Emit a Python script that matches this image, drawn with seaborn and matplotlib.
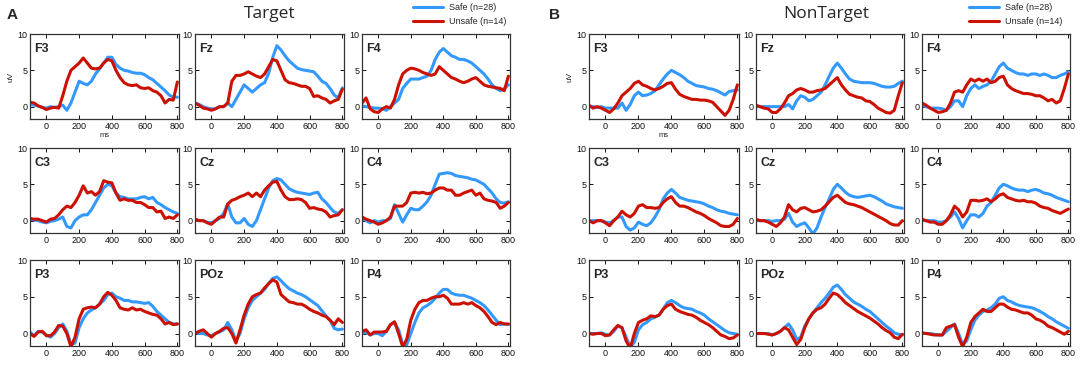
import numpy as np
import pandas as pd
import matplotlib
matplotlib.use("Agg")
import matplotlib.pyplot as plt
import seaborn as sns

# ---------------- data ----------------
TIME_MS = [-100, -75, -50, -25, 0, 25, 50, 75, 100, 125, 150, 175, 200, 225, 250, 275,
           300, 325, 350, 375, 400, 425, 450, 475, 500, 525, 550, 575, 600, 625, 650,
           675, 700, 725, 750, 775, 800]
CHANNELS = ["F3", "Fz", "F4", "C3", "Cz", "C4", "P3", "POz", "P4"]
CONDITIONS = ["Target", "NonTarget"]
PANEL_LETTERS = ["A", "B"]
GROUPS = ["Safe (n=28)", "Unsafe (n=14)"]

# Target condition
TGT_F3_SAFE = [0.3, 0.2, 0.1, -0.1, -0.2, 0.0, -0.1, 0.0, 0.2, -0.5, 0.5, 2.0, 3.5, 3.2, 3.0, 3.5, 4.5, 5.2, 6.0, 6.8, 6.8, 5.8, 5.3, 5.0, 4.9, 4.7, 4.6, 4.6, 4.4, 4.0, 3.7, 3.2, 2.7, 2.2, 1.6, 1.3, 1.3]
TGT_F3_UNSAFE = [0.6, 0.5, 0.1, -0.1, -0.4, -0.2, -0.1, -0.2, 1.5, 3.5, 5.0, 5.5, 6.0, 6.7, 6.0, 5.3, 5.2, 5.3, 6.0, 6.5, 6.3, 5.0, 4.0, 3.3, 3.0, 2.9, 3.0, 2.6, 2.5, 2.6, 2.2, 2.0, 1.5, 0.5, 1.0, 0.9, 3.4]
TGT_FZ_SAFE = [0.5, 0.3, 0.0, -0.2, -0.3, -0.3, 0.0, 0.0, 0.5, 0.0, 1.0, 2.0, 3.0, 2.5, 2.0, 2.5, 3.0, 3.3, 4.6, 6.8, 8.4, 7.8, 7.0, 6.3, 5.8, 5.3, 5.1, 5.0, 4.9, 4.8, 4.2, 3.5, 3.2, 2.5, 1.6, 1.2, 2.6]
TGT_FZ_UNSAFE = [0.5, 0.2, -0.2, -0.3, -0.5, -0.3, 0.0, 0.0, 0.5, 3.5, 4.3, 4.3, 4.5, 4.8, 4.5, 4.2, 4.0, 4.5, 5.5, 6.5, 6.3, 5.0, 3.7, 3.3, 3.2, 3.0, 2.8, 2.8, 2.5, 1.4, 1.5, 1.2, 1.0, 0.5, 0.8, 1.0, 2.4]
TGT_F4_SAFE = [0.1, 0.0, -0.1, -0.2, -0.2, -0.3, -0.5, 0.0, 0.5, 1.0, 2.5, 3.2, 3.8, 3.8, 3.8, 4.0, 4.2, 5.0, 6.5, 7.5, 8.0, 7.5, 7.0, 6.8, 6.5, 6.5, 6.3, 6.0, 5.5, 5.0, 4.5, 3.8, 3.0, 2.5, 2.2, 2.5, 3.0]
TGT_F4_UNSAFE = [0.5, 1.2, -0.3, -0.7, -0.8, -0.3, 0.0, -0.2, 1.0, 3.0, 4.5, 5.0, 5.3, 5.2, 5.0, 4.7, 4.5, 4.3, 4.5, 5.5, 5.0, 4.5, 4.0, 3.8, 3.5, 3.3, 3.5, 3.8, 4.0, 3.5, 3.0, 2.8, 2.7, 2.6, 2.5, 2.2, 4.2]
TGT_C3_SAFE = [0.2, 0.1, 0.0, -0.2, -0.3, -0.1, 0.0, 0.2, 0.5, -0.8, -1.0, 0.0, 0.5, 0.8, 0.8, 1.5, 2.5, 3.5, 4.5, 5.0, 4.8, 3.8, 3.3, 3.2, 3.0, 3.0, 3.0, 3.2, 3.3, 3.0, 3.2, 2.5, 2.2, 1.8, 1.5, 1.2, 1.0]
TGT_C3_UNSAFE = [0.3, 0.2, 0.2, 0.0, -0.2, 0.2, 0.3, 0.8, 1.5, 2.0, 1.8, 2.5, 3.5, 4.8, 3.8, 4.0, 3.5, 4.0, 5.5, 5.3, 5.2, 3.8, 2.8, 3.0, 2.8, 2.8, 2.5, 2.5, 2.2, 1.8, 1.8, 1.2, 1.3, 0.3, 0.5, 0.3, 0.8]
TGT_CZ_SAFE = [0.2, 0.0, 0.0, -0.2, -0.3, 0.0, 0.3, 1.0, 2.3, 0.5, -0.3, -0.3, 0.3, -0.5, -0.8, 0.0, 1.5, 3.0, 4.5, 5.5, 5.8, 5.6, 5.0, 4.4, 4.1, 3.9, 3.8, 3.7, 3.6, 3.8, 3.9, 3.0, 2.5, 1.8, 1.2, 1.0, 1.5]
TGT_CZ_UNSAFE = [0.2, 0.0, 0.0, -0.3, -0.5, 0.0, 0.5, 0.5, 2.3, 2.8, 3.0, 3.3, 3.5, 3.8, 3.3, 3.8, 3.3, 4.2, 4.8, 5.3, 5.4, 4.2, 3.3, 2.9, 2.9, 3.0, 2.9, 2.5, 1.7, 1.8, 1.6, 1.5, 1.2, 0.5, 0.7, 0.8, 1.5]
TGT_C4_SAFE = [0.3, 0.0, -0.3, 0.0, -0.2, 0.0, 0.0, 0.3, 2.2, 1.0, -0.2, 0.8, 1.7, 1.5, 1.5, 2.0, 2.6, 3.5, 5.0, 6.4, 6.5, 6.6, 6.5, 6.2, 6.1, 6.0, 5.9, 5.7, 5.6, 5.3, 5.0, 4.4, 3.8, 3.0, 2.5, 2.4, 2.6]
TGT_C4_UNSAFE = [0.5, 0.2, 0.0, -0.2, -0.5, -0.3, 0.0, 0.5, 2.0, 2.0, 2.0, 2.5, 3.8, 3.9, 3.8, 3.9, 3.7, 3.8, 4.2, 4.5, 4.5, 4.2, 4.2, 3.5, 3.5, 3.8, 4.0, 4.2, 3.5, 3.8, 3.0, 2.8, 2.7, 2.5, 1.7, 2.0, 2.5]
TGT_P3_SAFE = [0.2, -0.3, 0.3, 0.2, -0.2, -0.5, 0.0, 0.8, 1.3, 0.3, -1.5, -1.3, 0.8, 2.0, 2.8, 3.2, 3.5, 4.0, 4.5, 5.3, 5.5, 5.0, 4.8, 4.5, 4.5, 4.3, 4.3, 4.2, 4.1, 4.2, 3.7, 3.0, 2.5, 2.0, 1.5, 1.3, 1.3]
TGT_P3_UNSAFE = [0.0, -0.4, 0.2, 0.3, -0.3, -0.3, 0.2, 1.1, 1.0, 0.0, -1.8, -0.5, 2.0, 3.3, 3.5, 3.6, 3.5, 4.0, 5.0, 5.6, 5.2, 4.5, 3.5, 3.3, 3.2, 3.5, 3.2, 3.3, 3.0, 2.8, 2.6, 2.5, 2.0, 1.3, 1.5, 1.2, 1.3]
TGT_POZ_SAFE = [0.2, 0.0, 0.0, -0.2, -0.3, 0.0, 0.2, 0.5, 1.5, 0.5, -1.0, 0.0, 2.0, 3.5, 4.5, 5.0, 5.5, 6.0, 6.8, 7.5, 7.7, 7.2, 6.6, 6.1, 5.8, 5.5, 5.3, 5.0, 4.6, 4.2, 3.8, 3.1, 2.4, 1.8, 0.7, 0.5, 0.6]
TGT_POZ_UNSAFE = [0.0, 0.3, 0.5, 0.0, -0.5, 0.0, 0.3, 0.7, 0.8, 0.0, -1.3, 0.5, 2.5, 4.0, 5.0, 5.3, 5.5, 6.2, 6.8, 7.3, 7.0, 5.3, 4.8, 4.3, 4.2, 4.0, 4.0, 3.7, 3.3, 3.0, 2.8, 2.5, 2.3, 1.8, 1.2, 2.0, 1.5]
TGT_P4_SAFE = [0.0, 0.2, -0.2, 0.0, 0.0, -0.3, 0.3, 1.2, 1.5, 0.5, -1.5, -1.5, 0.0, 1.5, 2.8, 3.5, 3.8, 4.2, 4.8, 5.5, 6.0, 6.0, 5.5, 5.3, 5.2, 5.2, 5.0, 4.8, 4.5, 4.2, 3.8, 3.2, 2.5, 1.8, 1.2, 1.3, 1.2]
TGT_P4_UNSAFE = [0.3, 0.5, -0.2, 0.2, 0.2, 0.2, 0.3, 1.2, 1.6, 0.0, -1.8, -0.8, 1.8, 3.3, 4.2, 4.5, 4.5, 4.8, 5.0, 5.0, 5.2, 4.8, 4.0, 4.0, 4.0, 4.2, 4.0, 4.2, 3.8, 3.5, 3.0, 2.3, 1.5, 1.2, 1.5, 1.3, 1.3]

# NonTarget condition
NT_F3_SAFE = [0.0, 0.0, -0.1, 0.0, -0.2, -0.2, -0.2, -0.2, 0.5, -0.5, 0.3, 1.5, 2.0, 1.5, 1.6, 1.8, 2.2, 3.0, 3.8, 4.5, 5.0, 4.7, 4.4, 4.0, 3.5, 3.2, 2.9, 2.8, 2.7, 2.5, 2.4, 2.2, 1.9, 1.6, 2.1, 2.2, 2.3]
NT_F3_UNSAFE = [0.2, -0.2, 0.0, -0.2, -0.5, -0.8, -0.3, 0.5, 1.5, 2.0, 2.5, 3.2, 3.5, 3.0, 2.8, 2.5, 2.3, 2.5, 2.8, 3.2, 3.3, 2.4, 1.7, 1.4, 1.2, 1.0, 1.0, 0.9, 0.9, 0.8, 0.6, 0.0, -0.6, -1.2, -0.5, 1.0, 3.0]
NT_FZ_SAFE = [0.0, 0.0, 0.0, 0.0, 0.0, 0.0, 0.0, 0.0, 0.3, -0.3, 0.8, 1.5, 1.3, 0.8, 1.0, 1.5, 2.0, 3.0, 4.2, 5.3, 6.0, 5.3, 4.5, 3.8, 3.5, 3.4, 3.3, 3.3, 3.3, 3.2, 3.0, 2.8, 2.7, 2.7, 2.8, 3.2, 3.5]
NT_FZ_UNSAFE = [0.2, 0.0, -0.2, -0.3, -0.8, -0.8, -0.3, 0.5, 1.5, 1.8, 2.3, 2.5, 2.3, 2.0, 2.0, 2.2, 2.3, 2.5, 3.0, 3.5, 4.0, 3.0, 2.3, 1.7, 1.5, 1.3, 1.2, 0.8, 0.7, 0.3, -0.2, -0.5, -0.8, -0.9, -0.5, 1.5, 3.3]
NT_F4_SAFE = [0.2, 0.0, -0.2, -0.2, -0.2, -0.3, -0.5, 0.0, 0.8, 0.8, 0.0, 1.5, 2.5, 3.0, 2.5, 2.8, 3.0, 3.5, 4.5, 5.5, 6.0, 5.3, 5.0, 4.7, 4.5, 4.5, 4.3, 4.5, 4.5, 4.3, 4.5, 4.3, 4.0, 4.0, 4.3, 4.5, 4.8]
NT_F4_UNSAFE = [0.5, 0.2, -0.2, -0.5, -0.8, -0.7, -0.5, 0.5, 2.0, 2.2, 2.0, 3.0, 3.8, 3.5, 3.8, 3.5, 3.8, 3.3, 3.5, 4.0, 4.2, 3.0, 2.5, 2.2, 2.0, 1.8, 1.8, 1.7, 1.5, 1.5, 1.2, 0.8, 1.0, 0.5, 0.8, 2.5, 4.5]
NT_C3_SAFE = [0.0, 0.0, 0.0, 0.0, -0.2, -0.3, 0.0, 0.5, 0.5, -0.8, -1.3, -1.0, -0.2, -0.5, -0.7, -0.3, 0.5, 1.5, 3.0, 3.8, 4.3, 3.8, 3.2, 3.0, 2.8, 2.7, 2.6, 2.5, 2.3, 2.0, 1.8, 1.5, 1.3, 1.2, 1.0, 0.9, 0.8]
NT_C3_UNSAFE = [0.0, -0.3, 0.0, 0.0, -0.3, -0.7, 0.0, 0.5, 1.3, 0.8, 0.5, 1.0, 2.0, 2.2, 1.8, 1.8, 1.7, 1.8, 2.5, 3.0, 3.3, 2.5, 2.0, 2.0, 1.8, 1.5, 1.2, 1.0, 0.7, 0.3, 0.0, -0.3, -0.7, -0.8, -0.8, -0.5, 0.3]
NT_CZ_SAFE = [0.0, 0.0, 0.0, 0.0, -0.1, 0.0, 0.0, 0.2, 1.0, -0.2, -0.8, -0.5, -0.3, -1.0, -1.8, -1.0, 0.5, 1.8, 3.0, 4.3, 5.0, 4.5, 3.9, 3.5, 3.3, 3.2, 3.3, 3.4, 3.5, 3.3, 3.0, 2.7, 2.3, 2.1, 1.9, 1.8, 1.7]
NT_CZ_UNSAFE = [0.2, 0.0, 0.0, -0.2, -0.5, -0.8, -0.3, 0.5, 2.2, 1.5, 1.2, 1.7, 1.8, 1.5, 1.2, 1.3, 1.5, 2.0, 2.6, 3.2, 3.5, 3.0, 2.5, 2.3, 2.2, 2.0, 1.8, 1.5, 1.2, 0.9, 0.6, 0.3, 0.0, -0.4, -0.6, -0.6, 0.0]
NT_C4_SAFE = [0.0, 0.0, 0.0, 0.0, -0.2, -0.2, 0.0, 0.5, 1.2, 0.3, -1.0, 0.0, 0.8, 0.8, 0.5, 1.0, 2.0, 2.5, 3.5, 4.5, 5.0, 4.8, 4.5, 4.3, 4.2, 4.2, 4.0, 4.2, 4.3, 4.1, 3.8, 3.7, 3.5, 3.2, 3.0, 2.8, 2.6]
NT_C4_UNSAFE = [0.2, 0.0, -0.2, -0.2, -0.5, -0.5, 0.0, 0.8, 2.0, 1.5, 0.5, 1.2, 2.8, 2.8, 2.7, 2.8, 3.0, 2.6, 3.0, 3.5, 3.7, 3.2, 3.0, 2.8, 2.7, 2.8, 2.6, 2.6, 2.4, 2.0, 1.8, 1.7, 1.4, 1.2, 1.0, 1.3, 1.6]
NT_P3_SAFE = [0.0, 0.0, 0.0, 0.1, -0.1, -0.2, 0.3, 1.0, 0.8, -0.5, -1.8, -1.2, 0.5, 1.2, 1.5, 2.0, 2.2, 2.5, 3.3, 4.2, 4.5, 4.2, 3.8, 3.5, 3.4, 3.3, 3.0, 2.8, 2.5, 2.0, 1.6, 1.2, 0.8, 0.4, 0.1, 0.0, -0.1]
NT_P3_UNSAFE = [0.0, -0.1, 0.0, 0.0, -0.3, -0.2, 0.5, 1.1, 0.8, -1.0, -2.0, 0.0, 1.5, 1.8, 2.0, 2.4, 2.3, 2.5, 3.3, 3.8, 4.0, 3.3, 3.0, 2.8, 2.6, 2.5, 2.2, 1.8, 1.5, 1.2, 0.8, 0.3, -0.2, -0.4, -0.7, -0.6, -0.2]
NT_POZ_SAFE = [0.0, 0.0, 0.0, 0.0, -0.2, 0.0, 0.3, 0.8, 1.3, 0.5, -0.8, -0.5, 1.0, 2.0, 2.8, 3.5, 4.2, 4.8, 5.5, 6.3, 6.6, 6.0, 5.3, 4.8, 4.3, 4.0, 3.7, 3.3, 3.0, 2.5, 2.0, 1.5, 1.0, 0.6, 0.1, -0.1, -0.2]
NT_POZ_UNSAFE = [0.0, 0.0, 0.0, -0.1, -0.2, 0.0, 0.3, 0.8, 0.5, -0.5, -1.5, -0.8, 0.8, 2.0, 2.8, 3.3, 3.5, 4.0, 4.8, 5.5, 5.3, 4.8, 4.2, 3.8, 3.4, 3.0, 2.7, 2.4, 2.1, 1.7, 1.3, 0.8, 0.4, 0.1, -0.5, -0.7, -0.1]
NT_P4_SAFE = [0.0, 0.0, 0.0, -0.1, -0.2, -0.2, 0.3, 0.8, 1.3, 0.0, -1.5, -1.0, 0.5, 1.8, 2.5, 3.0, 3.2, 3.5, 4.0, 4.8, 5.0, 4.5, 4.3, 4.0, 3.8, 3.7, 3.6, 3.5, 3.3, 3.0, 2.7, 2.3, 2.0, 1.6, 1.3, 1.0, 0.7]
NT_P4_UNSAFE = [0.1, 0.0, -0.1, -0.2, -0.2, -0.2, 0.8, 1.0, 1.2, -0.5, -1.8, -0.5, 1.5, 2.3, 2.8, 3.3, 3.0, 3.0, 3.5, 4.0, 4.0, 3.6, 3.3, 3.2, 3.0, 2.8, 2.8, 2.5, 2.0, 1.8, 1.5, 1.0, 0.8, 0.5, 0.2, -0.1, 0.3]

SERIES = {
    ("Target", "F3"): (TGT_F3_SAFE, TGT_F3_UNSAFE),
    ("Target", "Fz"): (TGT_FZ_SAFE, TGT_FZ_UNSAFE),
    ("Target", "F4"): (TGT_F4_SAFE, TGT_F4_UNSAFE),
    ("Target", "C3"): (TGT_C3_SAFE, TGT_C3_UNSAFE),
    ("Target", "Cz"): (TGT_CZ_SAFE, TGT_CZ_UNSAFE),
    ("Target", "C4"): (TGT_C4_SAFE, TGT_C4_UNSAFE),
    ("Target", "P3"): (TGT_P3_SAFE, TGT_P3_UNSAFE),
    ("Target", "POz"): (TGT_POZ_SAFE, TGT_POZ_UNSAFE),
    ("Target", "P4"): (TGT_P4_SAFE, TGT_P4_UNSAFE),
    ("NonTarget", "F3"): (NT_F3_SAFE, NT_F3_UNSAFE),
    ("NonTarget", "Fz"): (NT_FZ_SAFE, NT_FZ_UNSAFE),
    ("NonTarget", "F4"): (NT_F4_SAFE, NT_F4_UNSAFE),
    ("NonTarget", "C3"): (NT_C3_SAFE, NT_C3_UNSAFE),
    ("NonTarget", "Cz"): (NT_CZ_SAFE, NT_CZ_UNSAFE),
    ("NonTarget", "C4"): (NT_C4_SAFE, NT_C4_UNSAFE),
    ("NonTarget", "P3"): (NT_P3_SAFE, NT_P3_UNSAFE),
    ("NonTarget", "POz"): (NT_POZ_SAFE, NT_POZ_UNSAFE),
    ("NonTarget", "P4"): (NT_P4_SAFE, NT_P4_UNSAFE),
}

rows = []
for (cond, ch), (safe, unsafe) in SERIES.items():
    for g, vals in zip(GROUPS, (safe, unsafe)):
        for t, v in zip(TIME_MS, vals):
            rows.append({"condition": cond, "channel": ch, "group": g, "ms": t, "uV": v})
df = pd.DataFrame(rows)

# ---------------- style ----------------
sns.set_style("ticks")
plt.rcParams["font.family"] = ["Liberation Sans", "DejaVu Sans"]
PALETTE = {GROUPS[0]: "#3399FF", GROUPS[1]: "#CC1100"}

W, H = 1084, 366
fig = plt.figure(figsize=(W / 100, H / 100), dpi=100)

COLS_PX = {"Target": [(30, 179), (195, 344), (362, 510)],
           "NonTarget": [(589, 739), (756, 904), (922, 1070)]}
ROWS_PX = [(34, 119), (148, 233), (260, 346)]

first_axes = {}
for cond in CONDITIONS:
    for i, ch in enumerate(CHANNELS):
        r, c = divmod(i, 3)
        x0, x1 = COLS_PX[cond][c]
        y0, y1 = ROWS_PX[r]
        ax = fig.add_axes([x0 / W, 1 - y1 / H, (x1 - x0) / W, (y1 - y0) / H])
        sub = df[(df.condition == cond) & (df.channel == ch)]
        sns.lineplot(data=sub, x="ms", y="uV", hue="group", hue_order=GROUPS,
                     palette=PALETTE, estimator=None, linewidth=2.2, ax=ax, legend=False)
        ax.set_xlim(-100, 810)
        ax.set_ylim(-1.7, 10)
        ax.set_xticks([0, 200, 400, 600, 800])
        ax.set_yticks([0, 5, 10])
        ax.tick_params(direction="in", top=True, right=True, length=3, width=0.7,
                       labelsize=6.5, pad=2, colors="#111111")
        for s in ax.spines.values():
            s.set_linewidth(0.9)
            s.set_color("#333333")
        ax.set_xlabel("")
        ax.set_ylabel("")
        ax.text(0.03, 0.82, ch, transform=ax.transAxes, fontsize=9, fontweight="bold",
                ha="left", va="center")
        if i == 0:
            first_axes[cond] = ax
            ax.set_xlabel("ms", fontsize=5.5, labelpad=1)
            ax.set_ylabel("uV", fontsize=6, labelpad=2)

# titles and letters
fig.text(270 / W, 1 - 14 / H, "Target", fontsize=12.5, ha="center", va="center",
         family=["Open Sans", "DejaVu Sans"])
fig.text(826 / W, 1 - 14 / H, "NonTarget", fontsize=12.5, ha="center", va="center",
         family=["Open Sans", "DejaVu Sans"])
fig.text(7 / W, 1 - 15 / H, "A", fontsize=11, fontweight="bold", ha="left", va="center")
fig.text(549 / W, 1 - 15 / H, "B", fontsize=11, fontweight="bold", ha="left", va="center")

# legends
for cond, xpx in (("Target", 411), ("NonTarget", 967)):
    handles = first_axes[cond].get_lines()[:2]
    fig.legend(handles, GROUPS, loc="upper left", bbox_to_anchor=(xpx / W, 1 - 1 / H),
               frameon=False, fontsize=6.5, handlelength=3.3, handletextpad=0.7,
               labelspacing=0.62, borderpad=0.2, borderaxespad=0)

fig.savefig("out.png", dpi=100)
